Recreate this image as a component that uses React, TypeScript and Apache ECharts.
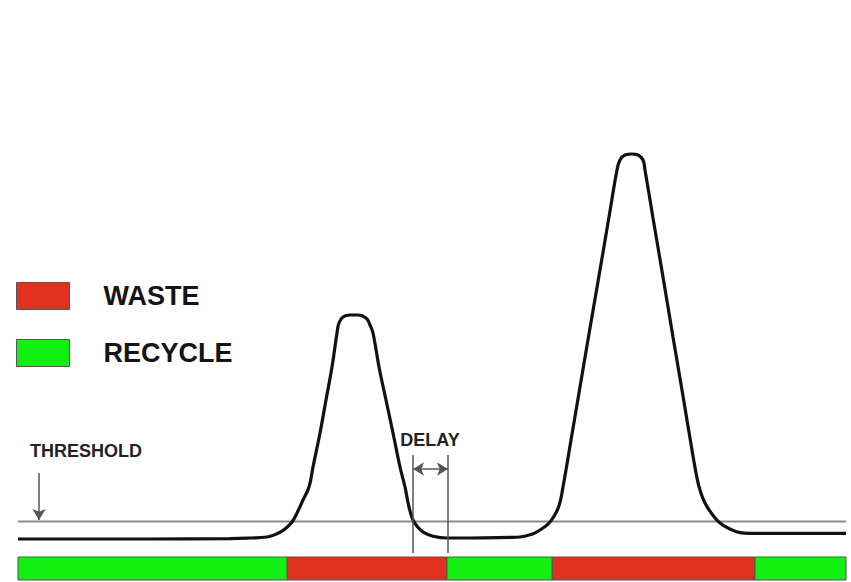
import React, { useEffect, useRef } from "react";
import * as echarts from "echarts";

// Detector signal: [time, signal]
const signalTime = [0, 132, 212, 232, 249, 259, 267, 274, 279, 285, 291, 295, 302, 308, 314, 319, 321, 325, 332, 340, 348, 352, 355, 361, 368, 375, 382, 387, 391, 395, 400, 406, 415, 429, 452, 492, 502, 514, 522, 530, 535, 541, 545, 552, 562, 572, 582, 592, 599, 602, 607, 614, 620, 625, 627, 635, 645, 655, 665, 675, 679, 682, 687, 694, 702, 712, 722, 732, 828];
const signalValue = [1.5, 1.5, 1.6, 1.75, 2, 2.8, 4, 5.75, 8, 11.25, 14.5, 19.5, 28, 36.25, 44.5, 53, 55.5, 57, 57.5, 57.5, 56.75, 55, 53, 44.5, 36.25, 28, 19.5, 14.5, 9.5, 6.25, 4.4, 3.1, 2.2, 1.75, 1.75, 1.9, 2, 2.7, 3.75, 5.2, 6.8, 9.8, 14.5, 24.75, 39.5, 54.25, 68.75, 83.5, 93.75, 96.25, 97.5, 97.75, 97.5, 96.25, 93.75, 81.75, 67, 52, 37.25, 22.25, 16.75, 13.75, 10.5, 7.75, 5.5, 4, 3.1, 2.9, 2.9];

const thresholdLevel = 5.9;
const timeMax = 828;

// Valve state segments [start, end]
const wasteSegments = [[269, 429], [534, 737]];
const recycleSegments = [[0, 269], [429, 534], [737, 828]];

// Delay marker
const delayStart = 395;
const delayEnd = 430;

const legendNames = ["WASTE", "RECYCLE"];
const wasteColor = "#E0301E";
const recycleColor = "#12F012";

export default function App() {
  const ref = useRef<HTMLDivElement>(null);
  useEffect(() => {
    if (!ref.current) return;
    const chart = echarts.init(ref.current, null, { renderer: "svg" });
    const signal = signalTime.map((t, i) => [t, signalValue[i]]);
    const renderSeg = (params: any, api: any) => {
      const s = api.coord([api.value(0), 1]);
      const e = api.coord([api.value(1), 0]);
      return {
        type: "rect",
        shape: { x: s[0], y: s[1], width: e[0] - s[0], height: e[1] - s[1] },
        style: { fill: api.visual("color"), stroke: "#555", lineWidth: 1 },
      };
    };
    const lineGray = { color: "#555", width: 1.5, type: "solid" };
    chart.setOption({
      animation: false,
      backgroundColor: "#fff",
      grid: [
        { left: 18, width: 828, top: 145, height: 410 },
        { left: 18, width: 828, top: 557, height: 23 },
      ],
      xAxis: [
        { type: "value", gridIndex: 0, min: 0, max: timeMax, show: false },
        { type: "value", gridIndex: 1, min: 0, max: timeMax, show: false },
      ],
      yAxis: [
        { type: "value", gridIndex: 0, min: -2.5, max: 100, show: false },
        { type: "value", gridIndex: 1, min: 0, max: 1, show: false },
      ],
      legend: {
        data: legendNames,
        orient: "vertical",
        left: 16,
        top: 282,
        padding: 0,
        icon: "rect",
        itemWidth: 53,
        itemHeight: 27,
        itemGap: 29,
        selectedMode: false,
        itemStyle: { borderColor: "#555", borderWidth: 1 },
        textStyle: {
          fontFamily: "Liberation Sans",
          fontSize: 27,
          fontWeight: "bold",
          color: "#141414",
          padding: [0, 0, 0, 29],
        },
      },
      series: [
        {
          name: "Threshold",
          type: "line",
          xAxisIndex: 0,
          yAxisIndex: 0,
          data: [[0, thresholdLevel], [timeMax, thresholdLevel]],
          symbol: "none",
          lineStyle: { color: "#8a8a8a", width: 2 },
          silent: true,
          z: 1,
        },
        {
          name: "Signal",
          type: "line",
          xAxisIndex: 0,
          yAxisIndex: 0,
          data: signal,
          symbol: "none",
          smooth: 0.45,
          lineStyle: { color: "#111", width: 3.2 },
          silent: true,
          z: 3,
          markLine: {
            silent: true,
            label: { show: false },
            lineStyle: lineGray,
            symbolSize: [10, 11],
            data: [
              [
                { coord: [21, 18], symbol: "none" },
                { coord: [21, 6.25], symbol: "arrow" },
              ],
              [
                { coord: [delayStart, 22.5], symbol: "none" },
                { coord: [delayStart, -2], symbol: "none" },
              ],
              [
                { coord: [delayEnd, 22.5], symbol: "none" },
                { coord: [delayEnd, -2], symbol: "none" },
              ],
              [
                { coord: [delayStart, 19], symbol: "arrow" },
                { coord: [delayEnd, 19], symbol: "arrow" },
              ],
            ],
          },
          markPoint: {
            silent: true,
            symbol: "rect",
            symbolSize: 1,
            itemStyle: { color: "rgba(0,0,0,0)" },
            label: {
              show: true,
              position: "inside",
              formatter: "{b}",
              fontFamily: "Liberation Sans",
              fontSize: 18,
              fontWeight: "bold",
              color: "#222",
            },
            data: [
              { name: "THRESHOLD", coord: [68, 23.5] },
              { name: "DELAY", coord: [412, 26.25] },
            ],
          },
        },
        {
          name: "WASTE",
          type: "custom",
          xAxisIndex: 1,
          yAxisIndex: 1,
          itemStyle: { color: wasteColor },
          encode: { x: [0, 1] },
          renderItem: renderSeg,
          data: wasteSegments,
          silent: true,
        },
        {
          name: "RECYCLE",
          type: "custom",
          xAxisIndex: 1,
          yAxisIndex: 1,
          itemStyle: { color: recycleColor },
          encode: { x: [0, 1] },
          renderItem: renderSeg,
          data: recycleSegments,
          silent: true,
        },
      ],
    });
    return () => chart.dispose();
  }, []);
  return (
    <div
      ref={ref}
      style={{ position: "absolute", left: 0, top: 0, width: 851, height: 582 }}
    />
  );
}
